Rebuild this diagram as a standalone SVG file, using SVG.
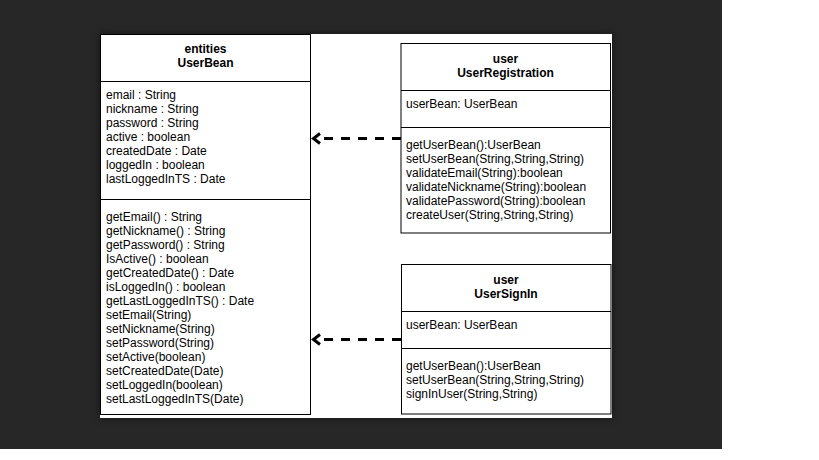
<svg xmlns="http://www.w3.org/2000/svg" width="819" height="460" viewBox="0 0 819 460">
<style>
.box{fill:#fff;stroke:#000;stroke-width:1}
.sep{stroke:#000;stroke-width:1}
text{font-family:"Liberation Sans",Arial,Helvetica,sans-serif;font-size:12px;fill:#000}
.t{font-weight:bold;text-anchor:middle}
.dep{fill:none;stroke:#000;stroke-width:3;stroke-dasharray:9 8}
.head{fill:none;stroke:#000;stroke-width:3}
</style>
<defs>
<filter id="sh" x="-10%" y="-10%" width="120%" height="120%">
<feGaussianBlur stdDeviation="4"/>
</filter>
</defs>
<rect x="0" y="0" width="819" height="460" fill="#fff"/>
<rect x="0" y="0" width="722" height="449" fill="#272727"/>
<rect x="100" y="34" width="512" height="384" fill="#000" opacity="0.5" filter="url(#sh)"/>
<rect x="100" y="34" width="512" height="384" fill="#fff"/>

<g id="UserBean">
<rect class="box" x="100.5" y="34.5" width="210" height="380"/>
<line class="sep" x1="100.5" y1="81.5" x2="310.5" y2="81.5"/>
<line class="sep" x1="100.5" y1="199.5" x2="310.5" y2="199.5"/>
<text class="t" x="205.5" y="53">entities</text>
<text class="t" x="205.5" y="67">UserBean</text>
<text x="106" y="99">email : String</text>
<text x="106" y="113">nickname : String</text>
<text x="106" y="127">password : String</text>
<text x="106" y="141">active : boolean</text>
<text x="106" y="155">createdDate : Date</text>
<text x="106" y="169">loggedIn : boolean</text>
<text x="106" y="183">lastLoggedInTS : Date</text>
<text x="106" y="221">getEmail() : String</text>
<text x="106" y="235">getNickname() : String</text>
<text x="106" y="249">getPassword() : String</text>
<text x="106" y="263">IsActive() : boolean</text>
<text x="106" y="277">getCreatedDate() : Date</text>
<text x="106" y="291">isLoggedIn() : boolean</text>
<text x="106" y="305">getLastLoggedInTS() : Date</text>
<text x="106" y="319">setEmail(String)</text>
<text x="106" y="333">setNickname(String)</text>
<text x="106" y="347">setPassword(String)</text>
<text x="106" y="361">setActive(boolean)</text>
<text x="106" y="375">setCreatedDate(Date)</text>
<text x="106" y="389">setLoggedIn(boolean)</text>
<text x="106" y="403">setLastLoggedInTS(Date)</text>
</g>

<g id="UserRegistration">
<rect class="box" x="401" y="43.5" width="209.5" height="189.5"/>
<line class="sep" x1="401" y1="90.5" x2="610.5" y2="90.5"/>
<line class="sep" x1="401" y1="127.5" x2="610.5" y2="127.5"/>
<text class="t" x="505.5" y="63">user</text>
<text class="t" x="505.5" y="77">UserRegistration</text>
<text x="406" y="108">userBean: UserBean</text>
<text x="406" y="149">getUserBean():UserBean</text>
<text x="406" y="163">setUserBean(String,String,String)</text>
<text x="406" y="177">validateEmail(String):boolean</text>
<text x="406" y="191">validateNickname(String):boolean</text>
<text x="406" y="205">validatePassword(String):boolean</text>
<text x="406" y="219">createUser(String,String,String)</text>
</g>

<g id="UserSignIn">
<rect class="box" x="401.5" y="264.5" width="209.5" height="149.5"/>
<line class="sep" x1="401.5" y1="311.5" x2="611" y2="311.5"/>
<line class="sep" x1="401.5" y1="348.5" x2="611" y2="348.5"/>
<text class="t" x="506" y="283.5">user</text>
<text class="t" x="506" y="297.5">UserSignIn</text>
<text x="406" y="329">userBean: UserBean</text>
<text x="406" y="370">getUserBean():UserBean</text>
<text x="406" y="384">setUserBean(String,String,String)</text>
<text x="406" y="398">signInUser(String,String)</text>
</g>

<g id="connectors">
<line class="dep" x1="401" y1="138.5" x2="315" y2="138.5"/>
<polyline class="head" points="320,133.5 313.5,138.5 320,143.5"/>
<line class="dep" x1="401" y1="339.5" x2="315" y2="339.5"/>
<polyline class="head" points="320,334.5 313.5,339.5 320,344.5"/>
</g>
</svg>
